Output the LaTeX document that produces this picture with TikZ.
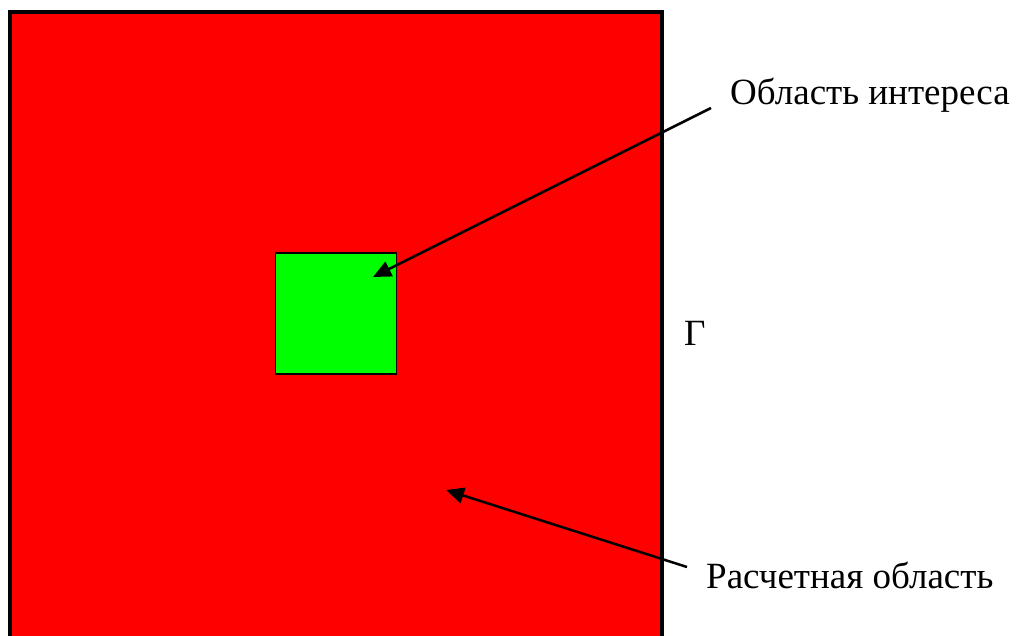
\documentclass[tikz,border=0pt]{standalone}
\usepackage{fontspec}
\setmainfont{Liberation Serif}
\usetikzlibrary{arrows.meta}
\definecolor{redfill}{RGB}{255,0,0}
\definecolor{greenfill}{RGB}{0,255,0}
\tikzset{
  lbl/.style={font=\fontsize{37}{44}\selectfont, inner sep=0pt, anchor=base west},
  arr/.style={line width=2.5pt, -{Triangle[length=18pt,width=16pt]}}
}
\begin{document}
\begin{tikzpicture}[x=1pt,y=-1pt]
\useasboundingbox (0,0) rectangle (1017,636);
\fill[redfill] (10,12) rectangle (662,640);
\draw[line width=4pt] (10,645) -- (10,12) -- (662,12) -- (662,645);
\node[draw=black, line width=1.5pt, fill=greenfill, minimum width=121pt, minimum height=121pt, inner sep=0pt] (roi) at (336,313.5) {};
\node[lbl] (t1) at (730,105) {Область интереса};
\node[lbl] (t2) at (706,588) {Расчетная область};
\node[lbl] (g) at (684,345) {Г};
\coordinate (s1) at (711,108);
\coordinate (e1) at (373,277);
\coordinate (s2) at (687,567);
\coordinate (e2) at (446,490);
\draw[arr] (s1) -- (e1);
\draw[arr] (s2) -- (e2);
\end{tikzpicture}
\end{document}
